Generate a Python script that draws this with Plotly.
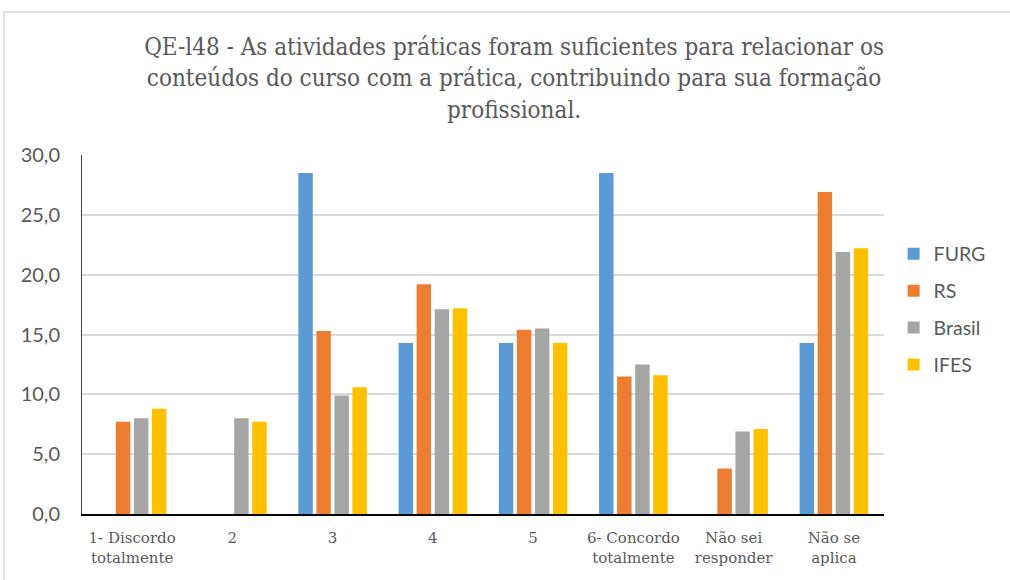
import plotly.graph_objects as go

# Categories and series (percentages)
categories = ["1- Discordo<br>totalmente", "2", "3", "4", "5",
              "6- Concordo<br>totalmente", "Não sei<br>responder", "Não se<br>aplica"]
furg = [0.0, 0.0, 28.5, 14.3, 14.3, 28.5, 0.0, 14.3]
rs = [7.7, 0.0, 15.3, 19.2, 15.4, 11.5, 3.8, 26.9]
brasil = [8.0, 8.0, 9.9, 17.1, 15.5, 12.5, 6.9, 21.9]
ifes = [8.8, 7.7, 10.6, 17.2, 14.3, 11.6, 7.1, 22.2]

series = [("FURG", furg, "#5B9BD5"),
          ("RS", rs, "#ED7D31"),
          ("Brasil", brasil, "#A5A5A5"),
          ("IFES", ifes, "#FFC000")]

title_text = ("QE-l48 - As atividades práticas foram suficientes para relacionar os<br>"
              "conteúdos do curso com a prática, contribuindo para sua formação<br>"
              "profissional.")

SERIF = "DejaVu Serif Condensed, DejaVu Serif"
SERIF_TICK = "DejaVu Serif"
SANS = "Lato, Open Sans, sans-serif"

fig = go.Figure()

for name, vals, color in series:
    fig.add_trace(go.Bar(
        x=categories,
        y=vals,
        name=name,
        legendgroup=name,
        marker=dict(color=color, line=dict(width=0)),
    ))

# outer chart-area border (light gray)
fig.add_shape(type="rect", xref="paper", yref="paper",
              x0=-0.0973, x1=1.17, y0=-0.25, y1=1.398,
              line=dict(color="#D9D9D9", width=1.5), layer="below")

fig.update_layout(
    width=1010,
    height=580,
    paper_bgcolor="white",
    plot_bgcolor="white",
    separators=",.",
    barmode="group",
    bargap=0.28,
    bargroupgap=0.2,
    margin=dict(l=82, r=126, t=155, b=66),
    title=dict(
        text=title_text,
        x=0.509,
        xanchor="center",
        y=0.905,
        yanchor="top",
        font=dict(family=SERIF, size=24, color="#595959"),
    ),
    legend=dict(
        x=1.012,
        xanchor="left",
        y=0.778,
        yanchor="top",
        font=dict(family=SANS, size=19.5, color="#595959"),
        tracegroupgap=8.5,
        itemwidth=30,
    ),
    xaxis=dict(
        showgrid=False,
        showline=True,
        linecolor="#000000",
        linewidth=2,
        ticks="",
        tickfont=dict(family=SERIF_TICK, size=15, color="#595959"),
        ticklabelstandoff=9,
    ),
    yaxis=dict(
        range=[0, 30],
        dtick=5,
        tickformat=".1f",
        showgrid=True,
        gridcolor="#D9D9D9",
        gridwidth=1.5,
        showline=True,
        linecolor="#404040",
        linewidth=1,
        zeroline=False,
        ticks="",
        tickfont=dict(family=SANS, size=20, color="#595959"),
        ticklabelstandoff=17,
    ),
)

# drop the default 8px page margin so the figure sits at the window origin
fig.write_html("out.html", config={"displayModeBar": False},
               post_script="document.body.style.margin='0';")
